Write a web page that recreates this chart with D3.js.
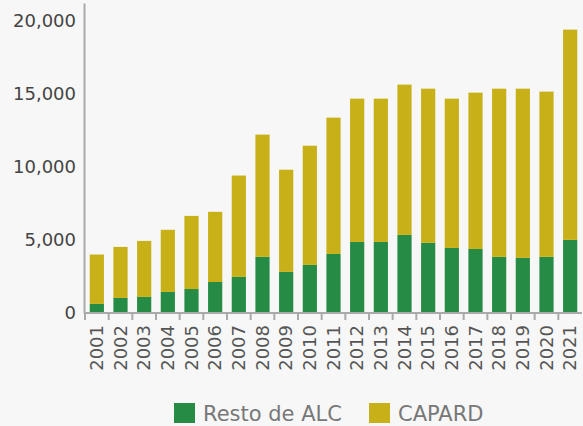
<!DOCTYPE html>
<html><head><meta charset="utf-8">
<script src="https://cdn.jsdelivr.net/npm/d3@7"></script>
<style>html,body{margin:0;padding:0;background:#f7f7f7;}svg{display:block;}</style>
</head><body>
<svg id="c" width="583" height="426"></svg>
<script>
const years = ["2001","2002","2003","2004","2005","2006","2007","2008","2009","2010","2011","2012","2013","2014","2015","2016","2017","2018","2019","2020","2021"];
const restoALC = [620,1030,1100,1440,1640,2120,2470,3840,2810,3290,4040,4860,4860,5340,4800,4450,4380,3840,3770,3840,5000];
const capard = [3380,3490,3830,4250,5000,4800,6930,8360,6990,8150,9320,9800,9800,10280,10540,10210,10690,11500,11570,11300,14380];
const yTicks = [0,5000,10000,15000,20000];
const seriesNames = ["Resto de ALC","CAPARD"];
const colors = ["#268b45","#c8b018"];

const font = "'DejaVu Sans', sans-serif";
const svg = d3.select("#c");
const x = d3.scaleBand().domain(years).range([85, 582]).paddingInner(0.4).paddingOuter(0.2);
const y = d3.scaleLinear().domain([0, 21200]).range([313, 3]);

const data = years.map((yr,i)=>({year:yr, resto:restoALC[i], capard:capard[i]}));
const stack = d3.stack().keys(["resto","capard"])(data);

svg.append("g").selectAll("g").data(stack).join("g").attr("fill",(d,i)=>colors[i])
  .selectAll("rect").data(d=>d).join("rect")
  .attr("x",d=>x(d.data.year)).attr("width",x.bandwidth())
  .attr("y",d=>y(d[1])).attr("height",d=>y(d[0])-y(d[1]));

// y axis
const ya = svg.append("g").attr("transform","translate(84,0)")
  .call(d3.axisLeft(y).tickValues(yTicks).tickSize(0).tickPadding(8).tickFormat(d3.format(",")));
ya.select(".domain").attr("stroke","#aaa").attr("stroke-width",2);
ya.selectAll("text").attr("font-family",font).attr("font-size",18).attr("fill","#444");

// x axis
const xa = svg.append("g").attr("transform","translate(0,313)")
  .call(d3.axisBottom(x).tickSize(0).tickSizeOuter(0));
xa.select(".domain").attr("stroke","#aaa").attr("stroke-width",2).attr("d","M84,0H582");
xa.selectAll(".tick line").remove();
// boundary ticks
const step = x.step();
xa.selectAll(".bt").data(years).join("line").attr("class","bt")
  .attr("x1",d=>x(d)-x.bandwidth()*0+ -(step - x.bandwidth())/2).attr("x2",d=>x(d)-(step - x.bandwidth())/2)
  .attr("y1",0).attr("y2",7).attr("stroke","#aaa").attr("stroke-width",2);
xa.selectAll(".tick text").attr("font-family",font).attr("font-size",18).attr("fill","#555")
  .attr("transform","rotate(-90)").attr("text-anchor","end").attr("x",-12).attr("y",0).attr("dy","0.35em");

// legend
const leg = svg.append("g");
const lx = [174, 369];
seriesNames.forEach((n,i)=>{
  leg.append("rect").attr("x",lx[i]).attr("y",403).attr("width",21).attr("height",20).attr("fill",colors[i]);
  leg.append("text").attr("x",lx[i]+29).attr("y",421).attr("font-family",font).attr("font-size",21).attr("fill","#777").text(n);
});
</script>
</body></html>
